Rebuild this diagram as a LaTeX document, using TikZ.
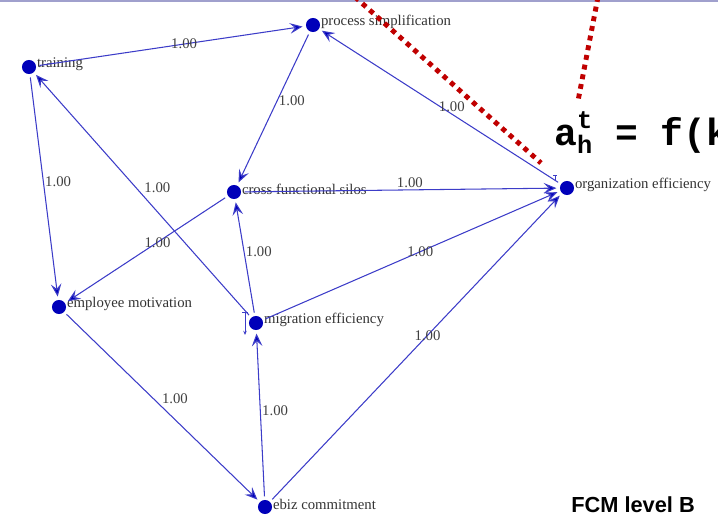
\documentclass[tikz,border=0pt]{standalone}
\usepackage{fontspec}
\setmainfont{Liberation Serif}
\setmonofont{Liberation Mono}
\newfontfamily\slidefont{Liberation Sans}
\usetikzlibrary{arrows.meta,positioning,calc}
\definecolor{edgeblue}{RGB}{60,60,200}
\definecolor{dotblue}{RGB}{0,0,185}
\definecolor{slidered}{RGB}{192,0,0}
\definecolor{rulegray}{RGB}{160,160,205}
\begin{document}
\begin{tikzpicture}[x=0.025cm,y=-0.025cm,
    dot/.style = {circle,fill=dotblue,inner sep=0pt,minimum size=10pt,outer sep=2.5pt},
    tag/.style = {font=\fontsize{10.5}{12}\selectfont,text=black!80,inner sep=1pt},
    weight/.style = {font=\fontsize{10.5}{12}\selectfont,text=black!75,inner sep=1pt},
    arrow/.style = {draw=edgeblue,line width=0.75pt,-{Stealth[length=9pt,width=7.5pt,inset=3.5pt,fill=dotblue]}}]
    \clip (0,0) rectangle (718,519);
    \draw[rulegray,line width=1.2pt] (0,1) -- (718,1);

    % concepts
    \node[dot] (trn) at (29,67) {};
    \node[dot] (prc) at (313,25) {};
    \node[dot] (cfs) at (234,192) {};
    \node[dot] (org) at (567,188) {};
    \node[dot] (emp) at (59,307) {};
    \node[dot] (mig) at (256,323) {};
    \node[dot] (ebz) at (265,507) {};

    \node[tag,right=-3pt of trn,yshift=2pt] (trnT) {training};
    \node[tag,right=-3pt of prc,yshift=2pt] (prcT) {process simplification};
    \node[tag,right=-3pt of cfs,yshift=2pt] (cfsT) {cross functional silos};
    \node[tag,right=-3pt of org,yshift=2pt] (orgT) {organization efficiency};
    \node[tag,right=-3pt of emp,yshift=2pt] (empT) {employee motivation};
    \node[tag,right=-3pt of mig,yshift=2pt] (migT) {migration efficiency};
    \node[tag,right=-3pt of ebz,yshift=2pt] (ebzT) {ebiz commitment};

    % weighted links
    \draw[arrow] (trn) -- node[weight,pos=.55] (w1) {1.00} (prc);
    \draw[arrow] (prc) -- node[weight,pos=.45,anchor=west] (w2) {1.00} (cfs);
    \draw[arrow] (org) -- node[weight,pos=.45,anchor=south] (w3) {1.00} (prc);
    \draw[arrow] (trn) -- node[weight,pos=.475,anchor=west] (w4) {1.00} (emp);
    \draw[arrow] (mig) -- node[weight,pos=.5,anchor=south west] (w5) {1.00} (trn);
    \draw[arrow] (cfs) -- node[weight,pos=.43] (w6) {1.00} (emp);
    \draw[arrow] (cfs) -- node[weight,pos=.53,anchor=south] (w7) {1.00} (org);
    \draw[arrow] (mig) -- node[weight,pos=.557,anchor=west] (w8) {1.00} (cfs);
    \draw[arrow] (mig) -- node[weight,pos=.53] (w9) {1.00} (org);
    \draw[arrow] (emp) -- node[weight,pos=.49,anchor=south west] (w10) {1.00} (ebz);
    \draw[arrow] (ebz) -- node[weight,pos=.527,anchor=west] (w11) {1.00} (mig);
    \draw[arrow] (ebz) -- node[weight,pos=.54] (w12) {1.00} (org);

    % small self marks
    \draw[edgeblue,line width=0.5pt,-{Stealth[length=3pt,width=2.5pt]}] ($(mig)+(-11,-11)$) -- ($(mig)+(-11,12)$);
    \draw[edgeblue,line width=0.5pt] ($(mig)+(-14,-11)$) -- ($(mig)+(-8,-11)$);
    \draw[edgeblue,line width=0.5pt] ($(org)+(-12,-13)$) -- ($(org)+(-12,-7)$);
    \draw[edgeblue,line width=0.5pt] ($(org)+(-14,-13)$) -- ($(org)+(-10,-13)$);

    % slide overlay
    \draw[slidered,line width=3.5pt,dash pattern=on 3.5pt off 3.5pt] (355,-3) -- (541,163);
    \draw[slidered,line width=3.5pt,dash pattern=on 3.5pt off 3.5pt] (598,-3) -- (578,101);
    \node[anchor=base west,inner sep=0pt,font=\ttfamily\bfseries\fontsize{27}{27}\selectfont] (eqn) at (554,145)
        {a\rlap{\raisebox{12pt}{\fontsize{18}{18}\selectfont t}}\raisebox{-5.7pt}{\fontsize{18}{18}\selectfont h} = f(k};
    \node[anchor=base west,inner sep=0pt,font=\slidefont\bfseries\fontsize{15.5}{16}\selectfont] (lvl) at (571,512) {FCM level B};
\end{tikzpicture}
\end{document}
